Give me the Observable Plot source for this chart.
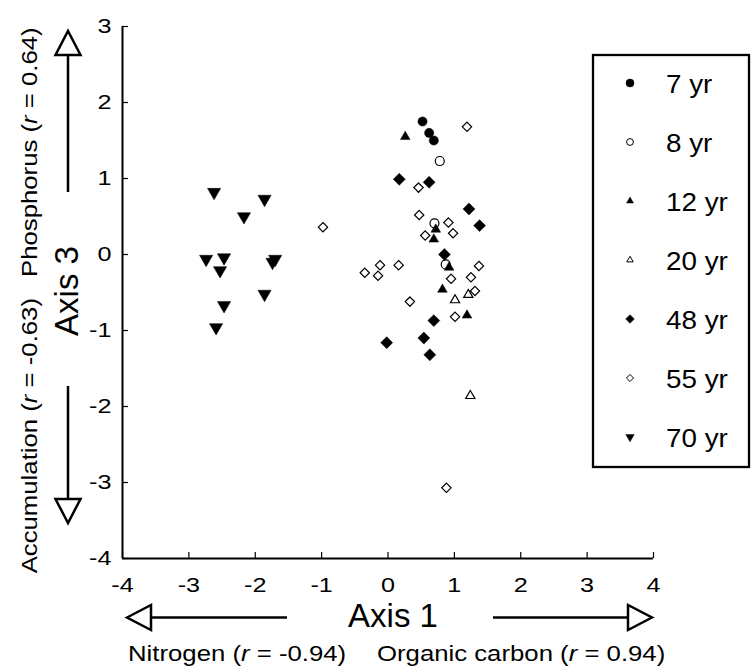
<!DOCTYPE html>
<html><head><meta charset="utf-8">
<script src="https://cdn.jsdelivr.net/npm/d3@7"></script>
<script src="https://cdn.jsdelivr.net/npm/@observablehq/plot@0.6"></script>
<style>body{margin:0;background:#fff} svg{display:block}</style>
</head><body><div id="chart"></div>
<script>
// ---- data ----
const xTicks = [-4, -3, -2, -1, 0, 1, 2, 3, 4];
const yTicks = [-4, -3, -2, -1, 0, 1, 2, 3];
const seriesNames = ["7 yr", "8 yr", "12 yr", "20 yr", "48 yr", "55 yr", "70 yr"];

const yr7X = [0.52, 0.62, 0.69];
const yr7Y = [1.75, 1.60, 1.50];

const yr8X = [0.78, 0.70, 0.87];
const yr8Y = [1.23, 0.41, -0.13];

const yr12X = [0.26, 0.72, 0.69, 0.92, 0.82, 1.19];
const yr12Y = [1.55, 0.33, 0.20, -0.17, -0.46, -0.80];

const yr20X = [1.21, 1.01, 1.24];
const yr20Y = [-0.53, -0.60, -1.86];

const yr48X = [0.17, 0.62, 1.22, 1.38, 0.85, -0.02, 0.69, 0.54, 0.63];
const yr48Y = [0.99, 0.95, 0.60, 0.38, 0.00, -1.16, -0.87, -1.10, -1.32];

const yr55X = [1.19, 0.46, 0.47, 0.91, 0.98, 0.56, 0.95, 1.37, 1.25, 1.31, 0.33, 1.01, -0.98, -0.35, -0.12, -0.15, 0.16, 0.88];
const yr55Y = [1.68, 0.88, 0.52, 0.42, 0.28, 0.25, -0.32, -0.15, -0.30, -0.48, -0.62, -0.82, 0.36, -0.24, -0.14, -0.28, -0.14, -3.07];

const yr70X = [-2.62, -1.86, -2.17, -2.74, -2.47, -2.53, -1.74, -1.70, -1.86, -2.47, -2.59];
const yr70Y = [0.82, 0.73, 0.50, -0.06, -0.04, -0.21, -0.10, -0.06, -0.52, -0.67, -0.96];

// ---- helpers ----
const FONT = "'Liberation Sans', Arial, Helvetica, sans-serif";
const triangleDown = {
  draw(ctx, size) {
    const s = Math.sqrt(size) * 0.6824, t = s / 2, u = s * Math.sqrt(3) / 2;
    ctx.moveTo(0, s); ctx.lineTo(-u, -t); ctx.lineTo(u, -t); ctx.closePath();
  }
};
const pts = (xs, ys) => xs.map((x, i) => ({x, y: ys[i]}));

const series = [
  {name: seriesNames[0], data: pts(yr7X, yr7Y), symbol: "circle", fill: "black", r: 4.6, lr: 4.0},
  {name: seriesNames[1], data: pts(yr8X, yr8Y), symbol: "circle", fill: "white", r: 4.5, lr: 3.4},
  {name: seriesNames[2], data: pts(yr12X, yr12Y), symbol: "triangle2", fill: "black", r: 4.6, lr: 3.3},
  {name: seriesNames[3], data: pts(yr20X, yr20Y), symbol: "triangle2", fill: "white", r: 4.4, lr: 3.1},
  {name: seriesNames[4], data: pts(yr48X, yr48Y), symbol: "diamond2", fill: "black", r: 5.4, lr: 3.9},
  {name: seriesNames[5], data: pts(yr55X, yr55Y), symbol: "diamond2", fill: "white", r: 4.2, lr: 3.2},
  {name: seriesNames[6], data: pts(yr70X, yr70Y), symbol: triangleDown, fill: "black", r: 6.3, lr: 4.0}
];

const W = 751, H = 669;
const mL = 122, mR = 98, mT = 26, mB = 111;
const plotW = W - mL - mR, plotH = H - mT - mB;

const chart = Plot.plot({
  width: W, height: H,
  marginLeft: mL, marginRight: mR, marginTop: mT, marginBottom: mB,
  style: {fontFamily: FONT, fontSize: "21px", background: "white", color: "black"},
  x: {domain: [-4, 4]},
  y: {domain: [-4, 3]},
  marks: [
    Plot.tickX(xTicks, {x: d => d, insetTop: plotH - 6, stroke: "black", strokeWidth: 1.2}),
    Plot.tickY(yTicks, {y: d => d, insetRight: plotW - 6, stroke: "black", strokeWidth: 1.2}),
    Plot.ruleX([-4], {stroke: "black", strokeWidth: 2}),
    Plot.ruleY([-4], {stroke: "black", strokeWidth: 2}),
    Plot.axisX({ticks: xTicks, tickSize: 0, tickPadding: 19, tickFormat: d => String(d), label: null, fontSize: 21}),
    Plot.axisY({ticks: yTicks, tickSize: 0, tickPadding: 11, tickFormat: d => String(d), label: null, fontSize: 21}),
    ...series.map(s => Plot.dot(s.data, {
      x: "x", y: "y", symbol: s.symbol, r: s.r,
      fill: s.fill, stroke: "black", strokeWidth: s.fill === "white" ? 1.2 : 0.5
    }))
  ]
});
document.getElementById("chart").appendChild(chart);

const svg = d3.select(chart);

// tick labels (the only Plot texts): set size and stretch horizontally like the original figure
chart.querySelectorAll("text").forEach(el => {
  const t = d3.select(el);
  t.attr("font-size", 21).style("font-size", "21px");
  const tr = t.attr("transform");
  if (tr) {
    t.attr("transform", tr + " scale(1.2,1)");
  } else {
    const x = +t.attr("x") || 0, y = +t.attr("y") || 0;
    t.attr("x", null).attr("y", null).attr("transform", `translate(${x},${y}) scale(1.2,1)`);
  }
});

const g = svg.append("g").attr("font-family", FONT).attr("fill", "black");

function arrow(x0, y0, x1, y1) {
  const dx = x1 - x0, dy = y1 - y0, len = Math.hypot(dx, dy), ux = dx / len, uy = dy / len;
  const L = 24, Wd = 12.5;
  const bx = x1 - ux * L, by = y1 - uy * L;
  g.append("line").attr("x1", x0).attr("y1", y0).attr("x2", bx).attr("y2", by)
    .attr("stroke", "black").attr("stroke-width", 2.5);
  g.append("path")
    .attr("d", `M${x1},${y1}L${bx - uy * Wd},${by + ux * Wd}L${bx + uy * Wd},${by - ux * Wd}Z`)
    .attr("fill", "white").attr("stroke", "black").attr("stroke-width", 2.5).attr("stroke-linejoin", "miter");
}
arrow(287, 617.5, 127, 617.5);
arrow(493, 617.5, 652, 617.5);
arrow(68, 192, 68, 31);
arrow(68, 386, 68, 523);

function label(parts, x, y, rot, anchor, sx, size) {
  const t = g.append("text")
    .attr("transform", `translate(${x},${y}) rotate(${rot}) scale(${sx},1)`)
    .attr("text-anchor", anchor).attr("font-size", size);
  parts.forEach(p => {
    const sp = t.append("tspan").text(typeof p === "string" ? p : p.i);
    if (typeof p !== "string") sp.attr("font-style", "italic");
  });
  return t;
}
label(["Axis 1"], 393, 627, 0, "middle", 1, 33);
label(["Axis 3"], 78, 291, -90, "middle", 1, 33);
label(["Nitrogen (", {i: "r"}, " = -0.94)"], 128, 661, 0, "start", 1.17, 22);
label(["Organic carbon (", {i: "r"}, " = 0.94)"], 377, 661, 0, "start", 1.17, 22);
label(["Accumulation (", {i: "r"}, " = -0.63)"], 37, 298, -90, "end", 1.17, 22);
label(["Phosphorus (", {i: "r"}, " = 0.64)"], 37, 277, -90, "start", 1.17, 22);

// legend
const lg = g.append("g");
lg.append("rect").attr("x", 593).attr("y", 55).attr("width", 156).attr("height", 412)
  .attr("fill", "white").attr("stroke", "black").attr("stroke-width", 2.3);
series.forEach((s, i) => {
  const cy = 83 + 59 * i;
  const sym = typeof s.symbol === "string"
    ? {circle: d3.symbolCircle, triangle2: d3.symbolTriangle2, diamond2: d3.symbolDiamond2}[s.symbol]
    : s.symbol;
  lg.append("path").attr("d", d3.symbol(sym, Math.PI * s.lr * s.lr)())
    .attr("transform", `translate(630,${cy})`)
    .attr("fill", s.fill).attr("stroke", "black").attr("stroke-width", s.fill === "white" ? 1 : 0.5);
  lg.append("text").attr("transform", `translate(666,${cy + 9.5}) scale(1.07,1)`)
    .attr("text-anchor", "start").attr("font-size", 26).text(s.name);
});
</script>
</body></html>
